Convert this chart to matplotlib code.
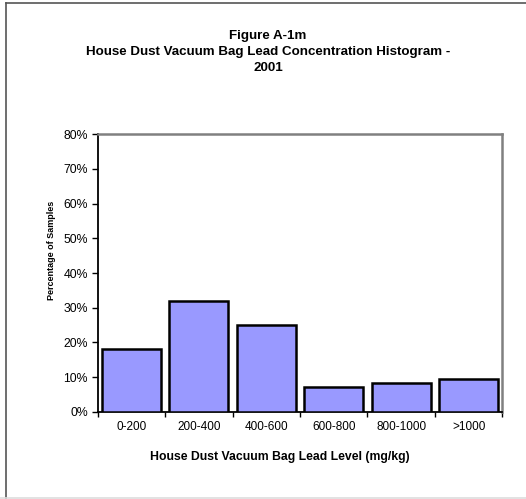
import matplotlib
matplotlib.use("Agg")
import matplotlib.pyplot as plt
from matplotlib.lines import Line2D
import numpy as np

# Histogram bins and percentage of samples in each
categories = ["0-200", "200-400", "400-600", "600-800", "800-1000", ">1000"]
percent = [18, 32, 25, 7, 8.3, 9.3]
y_ticks = [0, 10, 20, 30, 40, 50, 60, 70, 80]
y_tick_labels = [f"{v}%" for v in y_ticks]

plt.rcParams["font.family"] = ["Liberation Sans", "DejaVu Sans"]

W, H = 526, 499
fig = plt.figure(figsize=(W / 100, H / 100), dpi=100)
fig.patch.set_facecolor("white")

# Plot area in pixel coordinates
left, right, top, bottom = 97.7, 502.3, 134.3, 411.7
ax = fig.add_axes([left / W, 1 - bottom / H, (right - left) / W, (bottom - top) / H])

x = np.arange(len(categories))
ax.bar(x, percent, width=0.875, color="#9999FF", edgecolor="black", linewidth=1.8,
       zorder=3)

ax.set_xlim(-0.5, len(categories) - 0.5)
ax.set_ylim(0, 80)

ax.set_yticks(y_ticks)
ax.set_yticklabels(y_tick_labels, fontsize=8.8)
ax.tick_params(axis="y", direction="out", length=4.5, width=1, pad=2.5)

# Category labels centred on the bars, tick marks at bin boundaries
ax.set_xticks(np.arange(len(categories) + 1) - 0.5)
ax.set_xticklabels([""] * (len(categories) + 1))
ax.tick_params(axis="x", direction="out", length=3.5, width=1)
for i, c in enumerate(categories):
    ax.text(i, -0.055, c, transform=ax.get_xaxis_transform(), ha="center",
            va="center", fontsize=8.5)

for side in ("left", "bottom"):
    ax.spines[side].set_color("black")
    ax.spines[side].set_linewidth(1.3)
for side in ("top", "right"):
    ax.spines[side].set_color("#808080")
    ax.spines[side].set_linewidth(1.8)

title_x = 268 / W
fig.text(title_x, 1 - 36 / H, "Figure A-1m", ha="center", va="center",
         fontsize=9.6, fontweight="bold")
fig.text(title_x, 1 - 52 / H, "House Dust Vacuum Bag Lead Concentration Histogram -",
         ha="center", va="center", fontsize=9.6, fontweight="bold")
fig.text(title_x, 1 - 68 / H, "2001", ha="center", va="center",
         fontsize=9.6, fontweight="bold")

fig.text(280 / W, 1 - 457 / H, "House Dust Vacuum Bag Lead Level (mg/kg)",
         ha="center", va="center", fontsize=8.8, fontweight="bold")
fig.text(51.5 / W, 1 - 250 / H, "Percentage of Samples", ha="center",
         va="center", rotation=90, fontsize=6.5, fontweight="bold")

# Chart-area frame
fig.add_artist(Line2D([5.7 / W, 5.7 / W], [0, 1 - 2.7 / H], transform=fig.transFigure,
                      color="#555555", linewidth=1.2))
fig.add_artist(Line2D([5.7 / W, 1], [1 - 2.7 / H, 1 - 2.7 / H], transform=fig.transFigure,
                      color="#555555", linewidth=1.2))
fig.add_artist(Line2D([0, 1], [1 - 497.8 / H, 1 - 497.8 / H], transform=fig.transFigure,
                      color="#dddddd", linewidth=1.2))

fig.savefig("out.png", dpi=100)
